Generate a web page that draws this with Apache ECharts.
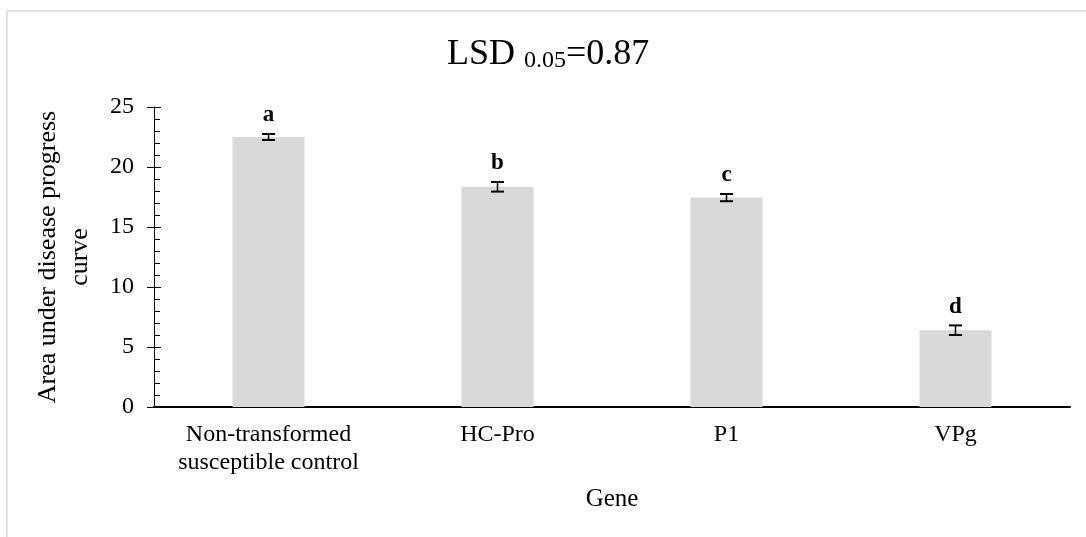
<!DOCTYPE html>
<html>
<head>
<meta charset="utf-8">
<script src="https://cdn.jsdelivr.net/npm/echarts@6/dist/echarts.min.js"></script>
<style>
	html, body { margin: 0; padding: 0; background: #fff; }
	#chart { width: 1086px; height: 537px; }
</style>
</head>
<body>
<div id="chart"></div>
<script>
var genes = ['Non-transformed\nsusceptible control', 'HC-Pro', 'P1', 'VPg'];
var audpc = [22.5, 18.35, 17.45, 6.4];
var errors = [0.25, 0.4, 0.3, 0.4];
var letters = ['a', 'b', 'c', 'd'];
var yTicks = [0, 5, 10, 15, 20, 25];

var serif = '"Liberation Serif", "Times New Roman", serif';

var errorData = [];
for( var i = 0; i < genes.length; i++ ){
	errorData.push( [i, audpc[i], errors[i]] );
}

// error bar + significance letter on top
var renderError = function(params, api){
	var x = api.value( 0 ), v = api.value( 1 ), e = api.value( 2 );
	var hi = api.coord( [x, v + e] );
	var lo = api.coord( [x, v - e] );
	var half = 6.5;
	var stroke = {stroke: '#000', lineWidth: 2};
	return {
		type: 'group',
		children: [
			{type: 'line', shape: {x1: hi[0], y1: hi[1], x2: lo[0], y2: lo[1]}, style: {stroke: '#000', lineWidth: 1.5}},
			{type: 'line', shape: {x1: hi[0] - half, y1: hi[1], x2: hi[0] + half, y2: hi[1]}, style: stroke},
			{type: 'line', shape: {x1: lo[0] - half, y1: lo[1], x2: lo[0] + half, y2: lo[1]}, style: stroke},
			{
				type: 'text',
				style: {
					x: hi[0], y: hi[1] - 7,
					text: letters[params.dataIndex],
					fill: '#000',
					font: 'bold 23px ' + serif,
					align: 'center',
					verticalAlign: 'bottom'
				}
			}
		]
	};
};

var chart = echarts.init( document.getElementById( 'chart' ) );
chart.setOption( {
	animation: false,
	backgroundColor: '#fff',
	textStyle: {fontFamily: serif, color: '#000'},
	graphic: [
		{type: 'rect', z: -10, shape: {x: 7, y: 11, width: 1100, height: 600}, style: {fill: 'none', stroke: '#d9d9d9', lineWidth: 1.5}}
	],
	title: {
		text: '{m|LSD }{s|0.05}{m|=0.87}',
		left: 447,
		top: 37,
		padding: 0,
		textStyle: {
			rich: {
				m: {fontFamily: serif, fontSize: 36, fontWeight: 'normal', lineHeight: 36, color: '#000'},
				s: {fontFamily: serif, fontSize: 24, fontWeight: 'normal', lineHeight: 10, verticalAlign: 'bottom', color: '#000'}
			}
		}
	},
	grid: {left: 154, right: 16, top: 107, bottom: 130},
	xAxis: {
		type: 'category',
		data: genes,
		axisLine: {lineStyle: {color: '#000', width: 2}},
		axisTick: {show: false},
		axisLabel: {color: '#000', fontFamily: serif, fontSize: 24, lineHeight: 28, margin: 14, interval: 0},
		name: 'Gene',
		nameLocation: 'middle',
		nameGap: 80,
		nameTextStyle: {color: '#000', fontFamily: serif, fontSize: 25}
	},
	yAxis: [
		{
			type: 'value',
			position: 'left',
			min: yTicks[0],
			max: yTicks[yTicks.length - 1],
			interval: 5,
			axisLine: {show: true, lineStyle: {color: '#000', width: 1}},
			axisTick: {show: true, length: 7, lineStyle: {color: '#000'}},
			axisLabel: {color: '#000', fontFamily: serif, fontSize: 24, margin: 20},
			splitLine: {show: false},
			name: 'Area under disease progress\ncurve',
			nameLocation: 'middle',
			nameRotate: 90,
			nameGap: 58,
			nameTextStyle: {color: '#000', fontFamily: serif, fontSize: 26, lineHeight: 32}
		},
		{
			type: 'value',
			position: 'left',
			offset: 0,
			min: yTicks[0],
			max: yTicks[yTicks.length - 1],
			interval: 5,
			axisLine: {show: false},
			axisTick: {show: true, inside: true, length: 7, lineStyle: {color: '#000'}},
			minorTick: {show: true, splitNumber: 5, length: 6, lineStyle: {color: '#000'}},
			axisLabel: {show: false},
			splitLine: {show: false},
			minorSplitLine: {show: false}
		}
	],
	series: [
		{
			type: 'bar',
			data: audpc,
			barWidth: 72,
			itemStyle: {color: '#d9d9d9'},
			silent: true
		},
		{
			type: 'custom',
			data: errorData,
			renderItem: renderError,
			encode: {x: 0, y: 1},
			z: 5,
			silent: true
		}
	]
} );
</script>
</body>
</html>
